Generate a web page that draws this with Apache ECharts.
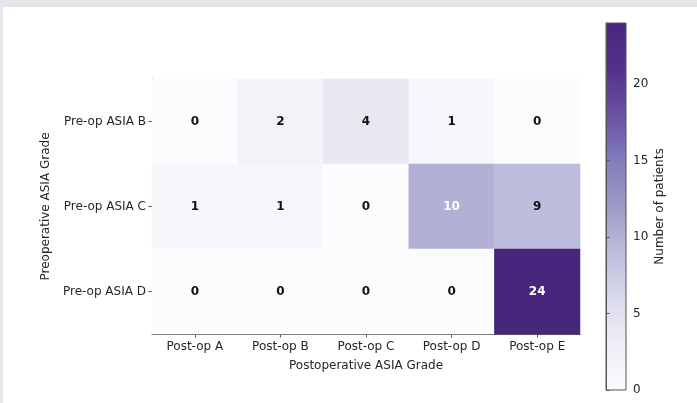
<!DOCTYPE html>
<html>
<head>
<meta charset="utf-8">
<script src="https://cdn.jsdelivr.net/npm/echarts@6/dist/echarts.min.js"></script>
<style>
  html, body { margin: 0; padding: 0; background: #ffffff; }
  #chart { width: 697px; height: 403px; }
</style>
</head>
<body>
<div id="chart"></div>
<script>
// Transition counts: preoperative grade (rows) to postoperative grade (columns)
const postGrades = ['Post-op A', 'Post-op B', 'Post-op C', 'Post-op D', 'Post-op E'];
const preGrades = ['Pre-op ASIA B', 'Pre-op ASIA C', 'Pre-op ASIA D'];
const rowB = [0, 2, 4, 1, 0];
const rowC = [1, 1, 0, 10, 9];
const rowD = [0, 0, 0, 0, 24];
const colorbarTicks = [0, 5, 10, 15, 20];
const colorMax = 24;

// Sequential purple ramp
const purples = ['#fcfbfd', '#efedf5', '#dadaeb', '#bcbddc', '#9e9ac8',
                 '#807dba', '#6a51a3', '#55308e', '#46277c'];

const rows = [rowB, rowC, rowD];
const cells = [];
rows.forEach((row, r) => {
  row.forEach((v, c) => {
    cells.push({
      value: [c, r, v],
      label: { color: v >= 10 ? '#ffffff' : '#111111' }
    });
  });
});

const font = 'DejaVu Sans';
const textColor = '#262626';
const stops = purples.map((c, i) => ({ offset: i / (purples.length - 1), color: c }));

const chart = echarts.init(document.getElementById('chart'), null, { renderer: 'canvas' });
chart.setOption({
  animation: false,
  backgroundColor: '#ffffff',
  graphic: [
    { type: 'rect', left: 0, top: 0, shape: { width: 697, height: 7 }, style: { fill: '#e5e6e9' }, z: 100 },
    { type: 'rect', left: 0, top: 0, shape: { width: 3, height: 403 }, style: { fill: '#e5e6e9' }, z: 100 }
  ],
  grid: [
    { left: 152, top: 79, width: 428, height: 255 },
    {
      left: 606, top: 23, width: 20, height: 367, show: true,
      borderColor: '#555555', borderWidth: 1,
      backgroundColor: new echarts.graphic.LinearGradient(0, 1, 0, 0, stops)
    }
  ],
  xAxis: [
    {
      type: 'category', data: postGrades, gridIndex: 0,
      name: 'Postoperative ASIA Grade', nameLocation: 'middle', nameGap: 26,
      nameTextStyle: { fontFamily: font, fontSize: 12, color: textColor },
      axisLine: { show: true, lineStyle: { color: '#555555', width: 1 } },
      axisTick: { show: true, alignWithLabel: true, length: 3.5, lineStyle: { color: '#555555' } },
      axisLabel: { fontFamily: font, fontSize: 12, color: textColor, margin: 7 },
      splitLine: { show: false }, splitArea: { show: false }
    },
    { type: 'value', gridIndex: 1, show: false, min: 0, max: 1 }
  ],
  yAxis: [
    {
      type: 'category', data: preGrades, gridIndex: 0, inverse: true,
      name: 'Preoperative ASIA Grade', nameLocation: 'middle', nameGap: 100, nameRotate: 90,
      nameTextStyle: { fontFamily: font, fontSize: 12, color: textColor },
      axisLine: { show: true, lineStyle: { color: '#555555', width: 1 } },
      axisTick: { show: true, alignWithLabel: true, length: 3.5, lineStyle: { color: '#555555' } },
      axisLabel: { fontFamily: font, fontSize: 12, color: textColor, margin: 6 },
      splitLine: { show: false }, splitArea: { show: false }
    },
    {
      type: 'value', gridIndex: 1, position: 'right', min: 0, max: colorMax, interval: 5,
      name: 'Number of patients', nameLocation: 'middle', nameGap: 28, nameRotate: 90,
      nameTextStyle: { fontFamily: font, fontSize: 12, color: textColor },
      axisLine: { show: true, lineStyle: { color: '#555555', width: 1 } },
      axisTick: { show: true, length: 3.5, lineStyle: { color: '#555555' } },
      axisLabel: {
        fontFamily: font, fontSize: 12, color: textColor, margin: 7,
        formatter: v => (colorbarTicks.indexOf(v) >= 0 ? String(v) : '')
      },
      splitLine: { show: false }
    }
  ],
  visualMap: {
    show: false, type: 'continuous', min: 0, max: colorMax,
    dimension: 2, seriesIndex: 0, inRange: { color: purples }
  },
  series: [{
    type: 'heatmap', xAxisIndex: 0, yAxisIndex: 0, data: cells,
    label: { show: true, fontFamily: font, fontWeight: 'bold', fontSize: 12,
             formatter: p => String(p.value[2]) },
    itemStyle: { borderWidth: 0 },
    emphasis: { disabled: true }
  }]
});
</script>
</body>
</html>
